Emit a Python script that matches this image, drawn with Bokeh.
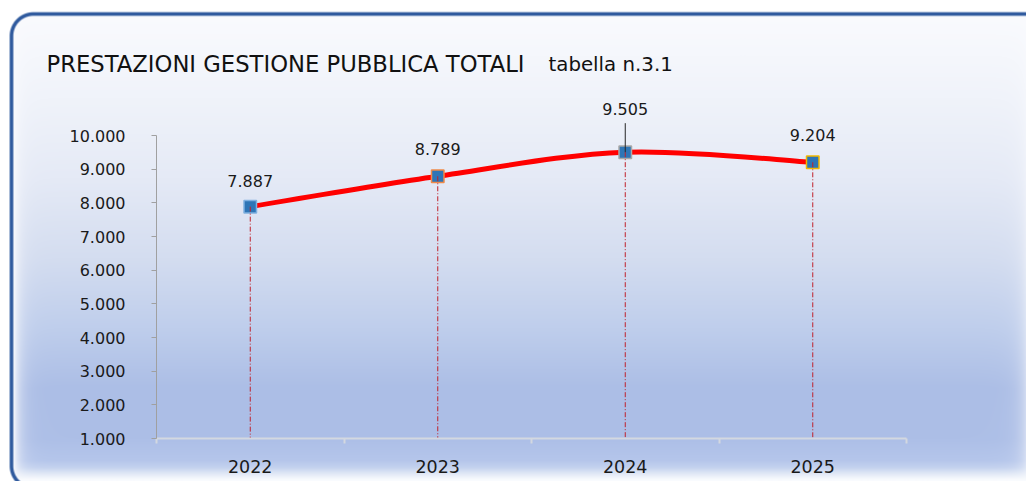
import numpy as np
from bokeh.plotting import figure
from bokeh.models import Range1d, FixedTicker, LinearAxis, Label
from bokeh.embed import file_html
from bokeh.resources import INLINE
from bokeh.core.properties import value

# ---------------- data ----------------
years = [2022, 2023, 2024, 2025]
year_labels = ["2022", "2023", "2024", "2025"]
prestazioni = [7887, 8789, 9505, 9204]
value_labels = ["7.887", "8.789", "9.505", "9.204"]
y_ticks = [1000, 2000, 3000, 4000, 5000, 6000, 7000, 8000, 9000, 10000]
y_tick_labels = ["1.000", "2.000", "3.000", "4.000", "5.000",
                 "6.000", "7.000", "8.000", "9.000", "10.000"]
title_text = "PRESTAZIONI GESTIONE PUBBLICA TOTALI"
subtitle_text = "tabella n.3.1"

# ---------------- styles / layout ----------------
FONT = "DejaVu Sans"
W, H = 1026, 481
PL, PR, PT, PB = 156, 906, 135, 438          # plot area inside the canvas (px)
label_offsets = [-26, -27, -43, -27]          # px above each point
marker_borders = ["#7fb0e0", "#f08a48", "#a8a8a8", "#f2b800"]

x_lo, x_hi = years[0] - 0.5, years[-1] + 0.5
y_lo, y_hi = y_ticks[0], y_ticks[-1]
sx = (PR - PL) / (x_hi - x_lo)
sy = (PB - PT) / (y_hi - y_lo)
x_start, x_end = x_lo - PL / sx, x_hi + (W - PR) / sx
y_start, y_end = y_lo - (H - PB) / sy, y_hi + PT / sy

p = figure(width=W, height=H, x_range=Range1d(x_start, x_end),
           y_range=Range1d(y_start, y_end), output_backend="svg",
           toolbar_location=None, min_border=0, title=None)
p.outline_line_color = None
p.background_fill_color = "white"
p.border_fill_color = "white"
p.grid.visible = False


# ---------------- background panel (gradient + rounded border) ----------------
def background_rgba():
    yy, xx = np.meshgrid(np.arange(H) + 0.5, np.arange(W) + 0.5, indexing="ij")
    stops_y = [13, 98, 178, 258, 328, 388, 438, 460, 467, 473, 479]
    stops_c = [(250, 251, 254), (240, 243, 250), (229, 234, 246), (212, 221, 240),
               (191, 206, 236), (172, 190, 230), (173, 191, 231), (181, 198, 235),
               (196, 210, 239), (224, 232, 246), (249, 251, 254)]
    rgb = np.zeros((H, W, 3))
    for k in range(3):
        col = np.interp(yy[:, 0], stops_y, [c[k] for c in stops_c])
        rgb[:, :, k] = col[:, None]
    wl = np.exp(-np.clip(xx - 13, 0, None) / 7.0)
    wr = np.exp(-np.clip(1031 - xx, 0, None) / 8.0)
    w = np.clip(np.maximum(wl, wr), 0, 1)[:, :, None]
    rgb = rgb * (1 - w) + np.array([250, 251, 254]) * w
    L, T, R, B, rad = 11.0, 13.5, 1100.0, 487.5, 22.0
    qx = np.abs(xx - (L + R) / 2) - ((R - L) / 2 - rad)
    qy = np.abs(yy - (T + B) / 2) - ((B - T) / 2 - rad)
    sd = (np.hypot(np.maximum(qx, 0), np.maximum(qy, 0))
          + np.minimum(np.maximum(qx, qy), 0) - rad)
    inside = np.clip(0.5 - sd, 0, 1)[:, :, None]
    white = np.array([255, 255, 255])
    out = white * (1 - inside) + rgb * inside
    border = np.clip(1.8 + 0.5 - np.abs(sd), 0, 1)[:, :, None]
    out = out * (1 - border) + np.array([47, 90, 158]) * border
    out = np.clip(out, 0, 255).astype(np.uint8)
    rgba = np.dstack([out, np.full((H, W), 255, np.uint8)])
    rgba = np.ascontiguousarray(np.flipud(rgba))
    return rgba.view(dtype=np.uint32).reshape(H, W)


p.image_rgba(image=[background_rgba()], x=x_start, y=y_start,
             dw=x_end - x_start, dh=y_end - y_start)

# ---------------- smoothed line (Catmull-Rom style Bezier) ----------------
xs = np.array(years, dtype=float)
ys = np.array(prestazioni, dtype=float)
n = len(xs)
seg = range(n - 1)
prv = [max(i - 1, 0) for i in seg]
nx2 = [min(i + 2, n - 1) for i in seg]
cx0 = [xs[i] + (xs[i + 1] - xs[prv[i]]) / 6 for i in seg]
cy0 = [ys[i] + (ys[i + 1] - ys[prv[i]]) / 6 for i in seg]
cx1 = [xs[i + 1] - (xs[nx2[i]] - xs[i]) / 6 for i in seg]
cy1 = [ys[i + 1] - (ys[nx2[i]] - ys[i]) / 6 for i in seg]
p.bezier(x0=xs[:-1], y0=ys[:-1], x1=xs[1:], y1=ys[1:],
         cx0=cx0, cy0=cy0, cx1=cx1, cy1=cy1,
         line_color="#ff0000", line_width=5, line_cap="round")

# markers
p.scatter(x=years, y=prestazioni, marker="square", size=12.5,
          fill_color="#2e75b6", line_color=marker_borders, line_width=1.5)

# drop lines
p.segment(x0=years, y0=prestazioni, x1=years, y1=[y_lo] * n,
          line_color="#c0202a", line_width=1, line_dash="5 2 1 2")

# leader line for the raised label
lead_len = (-label_offsets[2] - 14) / sy
p.segment(x0=[years[2]], y0=[prestazioni[2]], x1=[years[2]],
          y1=[prestazioni[2] + lead_len], line_color="#262626", line_width=1)

# data labels
p.text(x=years, y=prestazioni, text=value_labels, y_offset=label_offsets,
       text_align="center", text_baseline="middle",
       text_font=value(FONT), text_font_size="16px", text_color="#1a1a1a")

# ---------------- axes ----------------
ya = p.yaxis[0]
ya.fixed_location = x_lo
ya.bounds = (y_lo, y_hi)
ya.ticker = FixedTicker(ticks=y_ticks)
ya.major_label_overrides = dict(zip(y_ticks, y_tick_labels))
ya.major_label_text_font = FONT
ya.major_label_text_font_size = "16px"
ya.major_label_text_color = "#1a1a1a"
ya.axis_line_color = "#a0a0a0"
ya.major_tick_line_color = "#a0a0a0"
ya.major_tick_in = 0
ya.major_tick_out = 5
ya.minor_tick_line_color = None
ya.major_label_standoff = 26

boundaries = [y - 0.5 for y in years] + [years[-1] + 0.5]
xa = p.xaxis[0]
xa.fixed_location = y_lo
xa.bounds = (x_lo, x_hi)
xa.ticker = FixedTicker(ticks=boundaries)
xa.major_label_overrides = {b: "" for b in boundaries}
xa.axis_line_color = "#d3d8e0"
xa.axis_line_width = 2
xa.major_tick_line_color = "#d3d8e0"
xa.major_tick_line_width = 2
xa.major_tick_in = 0
xa.major_tick_out = 5
xa.minor_tick_line_color = None

xl = LinearAxis(fixed_location=y_lo, ticker=FixedTicker(ticks=years),
                major_label_overrides=dict(zip(years, year_labels)),
                axis_line_color=None, major_tick_line_color=None,
                minor_tick_line_color=None, major_label_standoff=15,
                major_label_text_font=FONT, major_label_text_font_size="17.5px",
                major_label_text_color="#1a1a1a")
p.add_layout(xl, "below")

# ---------------- titles ----------------
p.add_layout(Label(x=x_start + 46 / sx, y=y_end - 63.5 / sy, text=title_text,
                   text_font=FONT, text_font_size="22.7px", text_color="#111111",
                   text_baseline="alphabetic"))
p.add_layout(Label(x=x_start + 548 / sx, y=y_end - 63.5 / sy, text=subtitle_text,
                   text_font=FONT, text_font_size="19.8px", text_color="#111111",
                   text_baseline="alphabetic"))

open("out.html", "w").write(file_html(p, INLINE))
